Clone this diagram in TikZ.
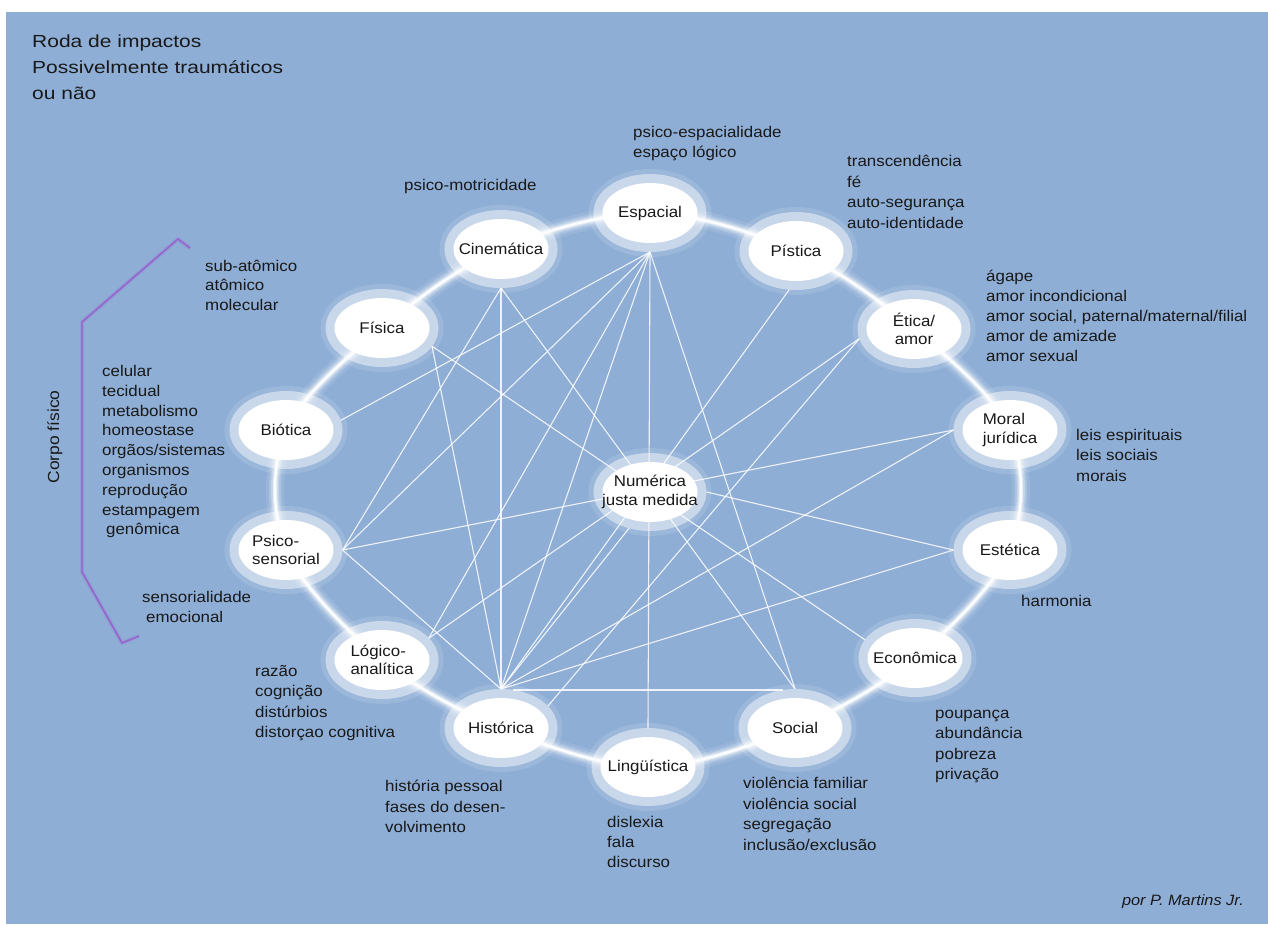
\documentclass[tikz,border=0pt]{standalone}
\usepackage{fontspec}
\setmainfont[FakeStretch=1.09]{Liberation Sans}
\newfontfamily\titlefont[FakeStretch=1.2]{Liberation Sans}
\usetikzlibrary{shapes.geometric}
\definecolor{bgblue}{RGB}{142,174,214}
\definecolor{txt}{RGB}{25,25,25}
\definecolor{brk}{RGB}{150,95,205}
\pgfdeclarelayer{bg}
\pgfdeclarelayer{edges}
\pgfsetlayers{bg,edges,main}
\begin{document}
\begin{tikzpicture}[x=1pt,y=-1pt,
  halo/.style={ellipse, fill=white, draw=white, draw opacity=0.45, line width=18pt,
    preaction={draw=white, draw opacity=0.12, line width=28pt},
    minimum width=95pt, minimum height=60pt, inner sep=0pt, outer sep=9pt},
  nt/.style={font=\fontsize{15.5}{18.5}\selectfont, text=txt, align=center, inner sep=0pt},
  lbl/.style={font=\fontsize{15.5}{20.3}\selectfont, text=txt, align=left, inner sep=0pt, anchor=north west},
  edge/.style={draw=white, line width=1.1pt, draw opacity=0.85},
  ringline/.style={draw=white, line cap=round}
]
\useasboundingbox (0,0) rectangle (1268,924);

% ring nodes
\node[halo, label={[nt]center:Espacial}] (esp) at (650,213) {};
\node[halo, label={[nt]center:Cinemática}] (cin) at (501,249) {};
\node[halo, label={[nt]center:Pística}] (pis) at (796,251) {};
\node[halo, label={[nt]center:Física}] (fis) at (382,328) {};
\node[halo, label={[nt]center:Ética/\\amor}] (eti) at (914,329) {};
\node[halo, label={[nt]center:Biótica}] (bio) at (286,430) {};
\node[halo, label={[nt,align=left]center:Moral\\jurídica}] (mor) at (1010,430) {};
\node[halo, label={[nt,align=left]center:Psico-\\sensorial}] (psi) at (286,550) {};
\node[halo, label={[nt]center:Estética}] (est) at (1010,550) {};
\node[halo, label={[nt,align=left]center:Lógico-\\analítica}] (log) at (382,660) {};
\node[halo, label={[nt]center:Econômica}] (eco) at (915,658) {};
\node[halo, label={[nt]center:Histórica}] (his) at (501,728) {};
\node[halo, label={[nt]center:Social}] (soc) at (795,728) {};
\node[halo, label={[nt]center:Lingüística}] (lin) at (648,767) {};
\node[halo, label={[nt]center:Numérica\\justa medida}] (num) at (650,492) {};

\begin{pgfonlayer}{bg}
  \fill[white] (0,0) rectangle (1268,924);
  \fill[bgblue] (6,12) rectangle (1268,924);
  \foreach \w/\o in {18/0.10, 12/0.18, 8/0.3, 4.5/0.55, 2.2/0.9} {
    \draw[ringline, line width=\w pt, draw opacity=\o]
      plot[smooth cycle, tension=0.55] coordinates {(esp.center) (pis.center) (eti.center) (mor.center)
        (est.center) (eco.center) (soc.center) (lin.center) (his.center) (log.center)
        (psi.center) (bio.center) (fis.center) (cin.center)};
  }
  % bracket
  \draw[brk, line width=4pt, opacity=0.25, line join=round] (190,248) -- (178,239) -- (82,322) -- (82,572) -- (122,643) -- (139,636);
  \draw[brk, line width=1.3pt, line join=miter] (190,248) -- (178,239) -- (82,322) -- (82,572) -- (122,643) -- (139,636);
\end{pgfonlayer}

\begin{pgfonlayer}{edges}
  \draw[edge] (esp.south) -- (bio.10);
  \draw[edge] (esp.south) -- (psi.east);
  \draw[edge] (esp.south) -- (log.25);
  \draw[edge] (esp.south) -- (his.north);
  \draw[edge] (esp.south) -- (lin.north);
  \draw[edge] (esp.south) -- (soc.north);
  \draw[edge] (cin.south) -- (psi.east);
  \draw[edge] (cin.south) -- (his.north);
  \draw[edge] (cin.south) -- (soc.north);
  \draw[edge] (fis.-20) -- (his.north);
  \draw[edge] (fis.-20) -- (eco.160);
  \draw[edge] (pis.260) -- (his.north);
  \draw[edge] (eti.190) -- (log.25);
  \draw[edge] (eti.190) -- (his.25);
  \draw[edge] (mor.west) -- (psi.east);
  \draw[edge] (mor.west) -- (his.north);
  \draw[edge] (est.west) -- (num.east);
  \draw[edge] (est.west) -- (his.north);
  \draw[edge] (his.north) -- (psi.east);
  \draw[edge] (his.north) -- (num.240);
  \draw[edge] (his.72) -- (soc.108);
\end{pgfonlayer}

% title and labels
\node[anchor=north west, inner sep=0pt, align=left, text=txt, font=\titlefont\fontsize{17.5}{26}\selectfont] (title) at (32,35)
  {Roda de impactos\\Possivelmente traumáticos\\ou não};
\node[lbl, font=\fontsize{15.5}{20}\selectfont] (t-esp) at (633,126) {psico-espacialidade\\espaço lógico};
\node[lbl] (t-cin) at (404,179) {psico-motricidade};
\node[lbl, font=\fontsize{15.5}{20.6}\selectfont] (t-pis) at (847,155) {transcendência\\fé\\auto-segurança\\auto-identidade};
\node[lbl, font=\fontsize{15.5}{19.5}\selectfont] (t-fis) at (205,260) {sub-atômico\\atômico\\molecular};
\node[lbl, font=\fontsize{15.5}{20}\selectfont] (t-eti) at (986,270) {ágape\\amor incondicional\\amor social, paternal/maternal/filial\\amor de amizade\\amor sexual};
\node[lbl, font=\fontsize{15.5}{19.8}\selectfont] (t-bio) at (102,365) {celular\\tecidual\\metabolismo\\homeostase\\orgãos/sistemas\\organismos\\reprodução\\estampagem\\\hspace{4pt}genômica};
\node[lbl, font=\fontsize{15.5}{20.5}\selectfont] (t-mor) at (1076,429) {leis espirituais\\leis sociais\\morais};
\node[lbl, font=\fontsize{15.5}{20}\selectfont] (t-psi) at (142,591) {sensorialidade\\\hspace{4pt}emocional};
\node[lbl] (t-est) at (1021,595) {harmonia};
\node[lbl, font=\fontsize{15.5}{20.5}\selectfont] (t-log) at (255,665) {razão\\cognição\\distúrbios\\distorçao cognitiva};
\node[lbl, font=\fontsize{15.5}{20.3}\selectfont] (t-eco) at (935,710) {poupança\\abundância\\pobreza\\privação};
\node[lbl, font=\fontsize{15.5}{20.5}\selectfont] (t-his) at (385,780) {história pessoal\\fases do desen-\\volvimento};
\node[lbl, font=\fontsize{15.5}{20.7}\selectfont] (t-soc) at (743,777) {violência familiar\\violência social\\segregação\\inclusão/exclusão};
\node[lbl, font=\fontsize{15.5}{20}\selectfont] (t-lin) at (607,816) {dislexia\\fala\\discurso};
\node[rotate=90, text=txt, inner sep=0pt, font=\fontsize{16}{18}\selectfont] (corpo) at (55,437) {Corpo físico};
\node[anchor=east, inner sep=0pt, text=txt, font=\fontsize{15}{17}\selectfont\itshape] (sig) at (1244,902) {por P. Martins Jr.};
\end{tikzpicture}
\end{document}
